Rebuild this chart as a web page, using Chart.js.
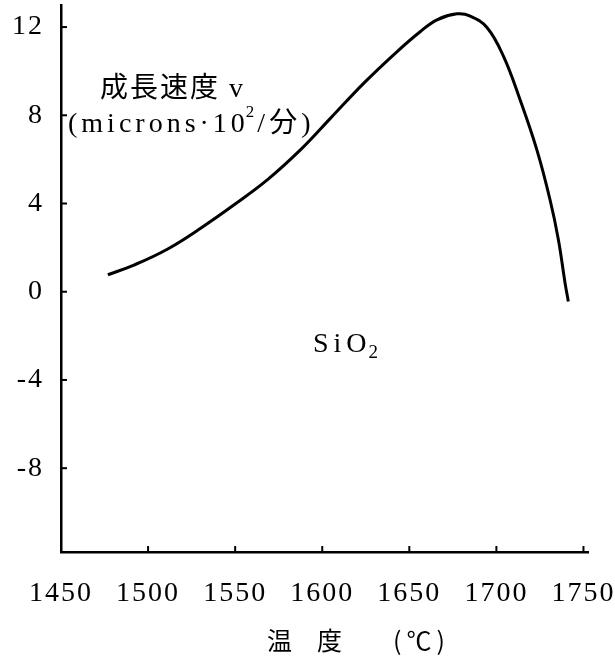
<!DOCTYPE html>
<html>
<head>
<meta charset="utf-8">
<script src="https://cdn.jsdelivr.net/npm/chart.js@4.4.0/dist/chart.umd.min.js"></script>
<style>
  html, body { margin: 0; padding: 0; background: #fff; }
  #wrap { width: 615px; height: 661px; position: relative; }
</style>
</head>
<body>
<div id="wrap"><canvas id="c" width="615" height="661"></canvas></div>
<script>
// ---- data ----
const temps = [1476.9, 1492.2, 1511.3, 1530.4, 1549.4, 1568.6, 1587.6, 1604.8, 1623.9, 1643.0, 1656.4, 1665.9, 1677.4, 1685.0, 1694.6, 1704.1, 1713.6, 1723.2, 1730.8, 1735.6, 1739.4, 1741.3];
const rates = [0.77, 1.22, 1.94, 2.89, 3.94, 5.08, 6.44, 7.87, 9.46, 10.89, 11.80, 12.33, 12.60, 12.50, 11.98, 10.67, 8.70, 6.44, 4.17, 2.36, 0.41, -0.44];
const xTicks = [1450, 1500, 1550, 1600, 1650, 1700, 1750];
const yTicks = [-8, -4, 0, 4, 8, 12];
const xRange = [1450, 1752.6];
const yRange = [-11.8, 13.0];
const xTitleParts = ['温', '度', '(℃)'];
const label1 = '成長速度 v';
const label2a = '(microns·10';
const label2sup = '2';
const label2b = '/分)';
const sioMain = 'SiO';
const sioSub = '2';

const SERIF = "'Liberation Serif', 'Noto Sans CJK JP', serif";
const CJK = "'Noto Sans CJK JP', sans-serif";

const decor = {
  id: 'decor',
  beforeDraw(chart) { chart.ctx.letterSpacing = '2px'; },
  afterDraw(chart) {
    const ctx = chart.ctx;
    const xs = chart.scales.x, ys = chart.scales.y;
    const a = chart.chartArea;
    ctx.save();
    ctx.strokeStyle = '#000';
    ctx.lineWidth = 2;
    yTicks.forEach(v => {
      const py = ys.getPixelForValue(v);
      ctx.beginPath(); ctx.moveTo(a.left - 1, py); ctx.lineTo(a.left + 6, py); ctx.stroke();
    });
    xTicks.forEach(v => {
      const px = xs.getPixelForValue(v);
      ctx.beginPath(); ctx.moveTo(px, a.bottom); ctx.lineTo(px, a.bottom - 6); ctx.stroke();
    });
    // annotations
    ctx.fillStyle = '#000';
    ctx.textBaseline = 'alphabetic';
    ctx.textAlign = 'left';
    ctx.letterSpacing = '2px';
    ctx.font = "28px " + SERIF;
    ctx.fillText(label1, 100, 97);
    ctx.letterSpacing = '4px';
    ctx.font = "28px " + SERIF;
    let x = 68;
    ctx.fillText(label2a, x, 132);
    x += ctx.measureText(label2a).width;
    ctx.font = "17px " + SERIF;
    ctx.fillText(label2sup, x - 3, 117);
    x += ctx.measureText(label2sup).width - 4;
    ctx.font = "28px " + SERIF;
    ctx.fillText(label2b, x, 132);
    ctx.letterSpacing = '5px';
    ctx.font = "28px " + SERIF;
    ctx.fillText(sioMain, 313, 352);
    const w = ctx.measureText(sioMain).width;
    ctx.letterSpacing = '0px';
    ctx.font = "19px " + SERIF;
    ctx.fillText(sioSub, 313 + w - 3, 358);
    // x axis title
    ctx.font = "25px " + CJK;
    ctx.textBaseline = 'middle';
    ctx.fillText(xTitleParts[0], 267, 640);
    ctx.fillText(xTitleParts[1], 317, 640);
    ctx.letterSpacing = '5px';
    ctx.fillText(xTitleParts[2], 393, 640);
    ctx.restore();
  }
};

new Chart(document.getElementById('c'), {
  type: 'line',
  data: {
    datasets: [{
      data: temps.map((t, i) => ({ x: t, y: rates[i] })),
      borderColor: '#000',
      borderWidth: 3,
      pointRadius: 0,
      tension: 0.4,
      fill: false
    }]
  },
  options: {
    responsive: false,
    animation: false,
    devicePixelRatio: 1,
    layout: { padding: { top: 5, right: 27, left: 0, bottom: 0 } },
    plugins: { legend: { display: false }, tooltip: { enabled: false } },
    scales: {
      x: {
        type: 'linear',
        min: xRange[0], max: xRange[1],
        afterBuildTicks(s) { s.ticks = xTicks.map(v => ({ value: v })); },
        afterFit(s) { s.height = 109; s.paddingLeft = 0; s.paddingRight = 0; },
        grid: { display: true, drawOnChartArea: false, drawTicks: false },
        border: { display: true, color: '#000', width: 2.5 },
        ticks: { color: '#000', font: { family: SERIF, size: 28 }, padding: 25, maxRotation: 0, autoSkip: false,
                 callback: v => String(v) }
      },
      y: {
        type: 'linear',
        min: yRange[0], max: yRange[1],
        afterBuildTicks(s) { s.ticks = yTicks.map(v => ({ value: v })); },
        afterFit(s) { s.width = 61; s.paddingTop = 0; s.paddingBottom = 0; },
        grid: { display: true, drawOnChartArea: false, drawTicks: false },
        border: { display: true, color: '#000', width: 2.5 },
        ticks: { color: '#000', font: { family: SERIF, size: 28 }, padding: 17, autoSkip: false,
                 callback: v => String(v) }
      }
    }
  },
  plugins: [decor]
});
</script>
</body>
</html>
